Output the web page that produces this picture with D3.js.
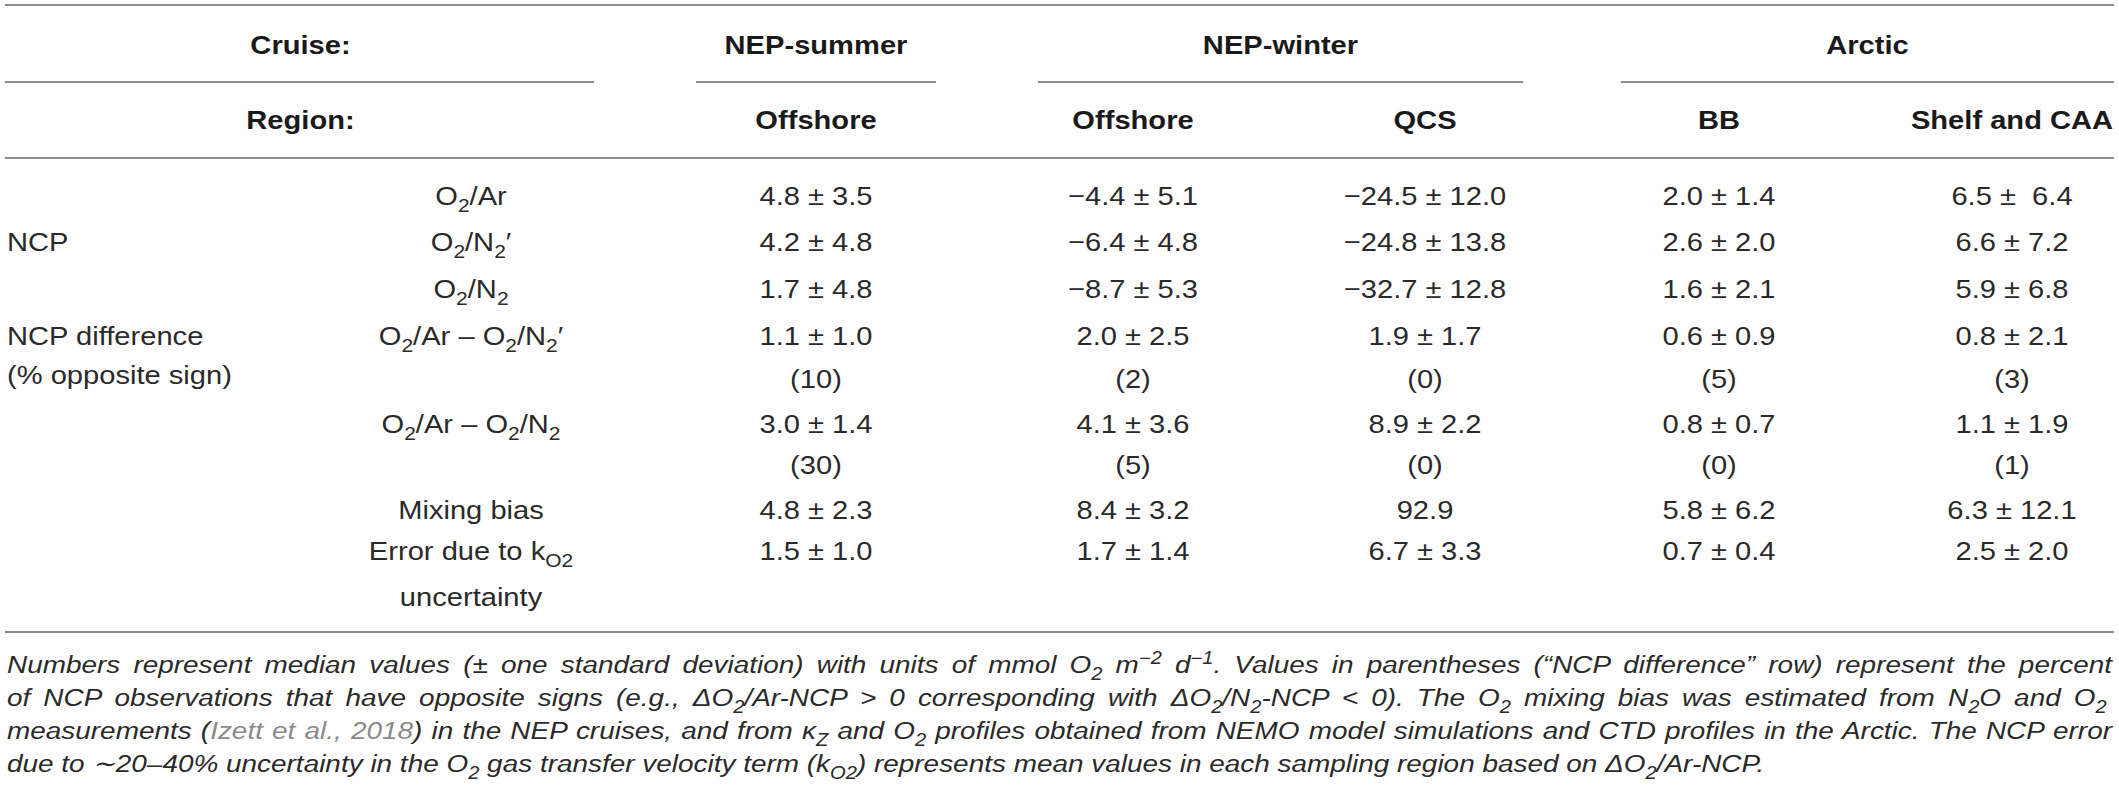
<!DOCTYPE html>
<html>
<head>
<meta charset="utf-8">
<script src="https://cdn.jsdelivr.net/npm/d3@7"></script>
<style>
  html, body { margin: 0; padding: 0; background: #fff; }
  svg { display: block; }
</style>
</head>
<body>
<svg id="chart" width="2119" height="798"></svg>
<script>
// ---------------- DATA ----------------
const cruises = ["NEP-summer", "NEP-winter", "Arctic"];
const regions = ["Offshore", "Offshore", "QCS", "BB", "Shelf and CAA"];
const regionCruise = [0, 1, 1, 2, 2];

const o2arMed   = [4.8, -4.4, -24.5, 2.0, 6.5];
const o2arSd    = [3.5, 5.1, 12.0, 1.4, 6.4];
const o2n2pMed  = [4.2, -6.4, -24.8, 2.6, 6.6];
const o2n2pSd   = [4.8, 4.8, 13.8, 2.0, 7.2];
const o2n2Med   = [1.7, -8.7, -32.7, 1.6, 5.9];
const o2n2Sd    = [4.8, 5.3, 12.8, 2.1, 6.8];
const diff1Med  = [1.1, 2.0, 1.9, 0.6, 0.8];
const diff1Sd   = [1.0, 2.5, 1.7, 0.9, 2.1];
const diff1Pct  = [10, 2, 0, 5, 3];
const diff2Med  = [3.0, 4.1, 8.9, 0.8, 1.1];
const diff2Sd   = [1.4, 3.6, 2.2, 0.7, 1.9];
const diff2Pct  = [30, 5, 0, 0, 1];
const mixMed    = [4.8, 8.4, 92.9, 5.8, 6.3];
const mixSd     = [2.3, 3.2, null, 6.2, 12.1];
const errMed    = [1.5, 1.7, 6.7, 0.7, 2.5];
const errSd     = [1.0, 1.4, 3.3, 0.4, 2.0];

const groupLabels = ["NCP", "NCP difference", "(% opposite sign)"];
const rowLabels = ["O_{2}/Ar", "O_{2}/N_{2}′", "O_{2}/N_{2}", "O_{2}/Ar – O_{2}/N_{2}′",
                   "O_{2}/Ar – O_{2}/N_{2}", "Mixing bias", "Error due to k_{O2}", "uncertainty"];

const captionLines = [
  "Numbers represent median values (± one standard deviation) with units of mmol O_{2} m^{−2} d^{−1}. Values in parentheses (“NCP difference” row) represent the percent",
  "of NCP observations that have opposite signs (e.g.,  ΔO_{2}/Ar-NCP > 0 corresponding with ΔO_{2}/N_{2}-NCP < 0). The O_{2} mixing bias was estimated from N_{2}O and O_{2}",
  "measurements ([Izett et al., 2018]) in the NEP cruises, and from κ_{Z} and O_{2} profiles obtained from NEMO model simulations and CTD profiles in the Arctic. The NCP error",
  "due to ∼20–40% uncertainty in the O_{2} gas transfer velocity term (k_{O2}) represents mean values in each sampling region based on ΔO_{2}/Ar-NCP."
];

// ---------------- LAYOUT ----------------
const W = 2119;
const FONT = "'Liberation Sans', Arial, Helvetica, sans-serif";
const FS = 26, SX = 1.12;
const CAP_FS = 24.5, CAP_SX = 1.14;
const textColor = "#2a2a2a";
const ruleColor = "#8c8c8c";
const leftX = 7, rightX = 2114;
const labelColX = 471;
const x = d3.scaleOrdinal().domain(d3.range(regions.length)).range([816, 1133, 1425, 1719, 2012]);
const cruiseSpans = [[696, 936], [1038, 1523], [1621, 2114]];
const cruiseHeaderSpan = [leftX, 594];
const y = d3.scaleOrdinal()
  .domain(["cruise", "region", "r0", "r1", "r2", "r3", "r3p", "r4", "r4p", "r5", "r6", "r6b", "g1b"])
  .range([54, 129, 205, 251, 298, 345, 388, 433, 474, 519, 560, 606, 384]);

const svg = d3.select("#chart");
svg.append("rect").attr("width", W).attr("height", 798).attr("fill", "#fff");

const fmt = v => (v < 0 ? "−" : "") + Math.abs(v).toFixed(1);
const pm = (m, s) => s == null ? fmt(m) : fmt(m) + " ± " + fmt(s);

function rich(parent, str, px, py, opts = {}) {
  const fs = opts.size || FS;
  const sx = opts.sx || SX;
  const t = parent.append("text")
    .attr("transform", `translate(${px},${py}) scale(${sx},1)`)
    .attr("font-family", FONT)
    .attr("font-size", fs)
    .attr("font-weight", opts.weight || "normal")
    .attr("font-style", opts.italic ? "italic" : "normal")
    .attr("fill", opts.weight === "bold" ? "#1a1a1a" : textColor)
    .attr("text-anchor", opts.anchor || "middle");
  const parts = str.split(/(_\{[^}]*\}|\^\{[^}]*\}|\[[^\]]*\])/).filter(s => s.length);
  let shift = 0;
  parts.forEach(p => {
    let txt = p, dy = 0, size = null, fill = null;
    if (p.startsWith("_{")) { txt = p.slice(2, -1); dy = fs * 0.28; size = fs * 0.72; }
    else if (p.startsWith("^{")) { txt = p.slice(2, -1); dy = -fs * 0.38; size = fs * 0.72; }
    else if (p.startsWith("[")) { txt = p.slice(1, -1); fill = "#8a8a8a"; }
    const ts = t.append("tspan").text(txt).attr("dy", dy - shift);
    if (size) ts.attr("font-size", size);
    if (fill) ts.attr("fill", fill);
    shift = dy;
  });
  return t;
}

function rule(x1, x2, yy) {
  svg.append("line").attr("x1", x1).attr("x2", x2).attr("y1", yy).attr("y2", yy)
    .attr("stroke", ruleColor).attr("stroke-width", 2);
}

// Rules
rule(leftX - 2, rightX, 5);
rule(cruiseHeaderSpan[0] - 2, cruiseHeaderSpan[1], 82);
cruiseSpans.forEach(s => rule(s[0], s[1], 82));
rule(leftX - 2, rightX, 158);
rule(leftX - 2, rightX, 632);

// Header
const hdr = svg.append("g");
rich(hdr, "Cruise:", (cruiseHeaderSpan[0] + cruiseHeaderSpan[1]) / 2, y("cruise"), { weight: "bold" });
cruises.forEach((c, i) => {
  rich(hdr, c, (cruiseSpans[i][0] + cruiseSpans[i][1]) / 2, y("cruise"), { weight: "bold" });
});
rich(hdr, "Region:", (cruiseHeaderSpan[0] + cruiseHeaderSpan[1]) / 2, y("region"), { weight: "bold" });
regions.forEach((r, i) => rich(hdr, r, x(i), y("region"), { weight: "bold" }));

// Group labels
const body = svg.append("g");
rich(body, groupLabels[0], leftX, y("r1"), { anchor: "start" });
rich(body, groupLabels[1], leftX, y("r3"), { anchor: "start" });
rich(body, groupLabels[2], leftX, y("g1b"), { anchor: "start" });

// Row labels
const rowKeys = ["r0", "r1", "r2", "r3", "r4", "r5", "r6", "r6b"];
rowLabels.forEach((l, i) => rich(body, l, labelColX, y(rowKeys[i])));

// Values
const rowsData = [
  { key: "r0", med: o2arMed, sd: o2arSd },
  { key: "r1", med: o2n2pMed, sd: o2n2pSd },
  { key: "r2", med: o2n2Med, sd: o2n2Sd },
  { key: "r3", med: diff1Med, sd: diff1Sd, pct: diff1Pct, pkey: "r3p" },
  { key: "r4", med: diff2Med, sd: diff2Sd, pct: diff2Pct, pkey: "r4p" },
  { key: "r5", med: mixMed, sd: mixSd },
  { key: "r6", med: errMed, sd: errSd }
];
rowsData.forEach(r => {
  r.med.forEach((m, i) => {
    let s = pm(m, r.sd[i]);
    if (r.key === "r0" && i === 4) s = fmt(m) + " ±  " + fmt(r.sd[i]);
    rich(body, s, x(i), y(r.key)).attr("xml:space", "preserve").style("white-space", "pre");
    if (r.pct) rich(body, "(" + r.pct[i] + ")", x(i), y(r.pkey));
  });
});

// Caption (justified)
const cap = svg.append("g");
const capY = [673, 706, 739, 772];
captionLines.forEach((line, i) => {
  const t = rich(cap, line, leftX, capY[i], { anchor: "start", italic: true, size: CAP_FS, sx: CAP_SX });
  if (i < captionLines.length - 1) {
    const w = t.node().getComputedTextLength();
    const target = (rightX - 2 - leftX) / CAP_SX;
    const spaces = (line.replace(/\[|\]|_\{|\^\{|\}/g, "").match(/ /g) || []).length;
    if (spaces > 0) t.attr("word-spacing", (target - w) / spaces);
  }
});
</script>
</body>
</html>
